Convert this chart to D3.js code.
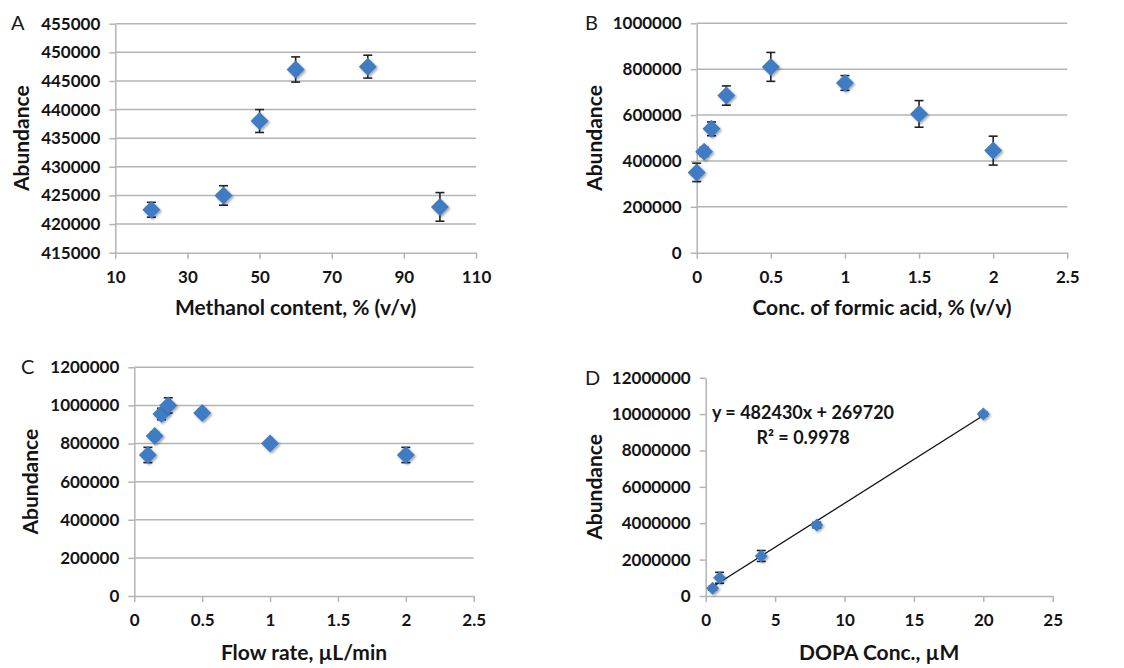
<!DOCTYPE html>
<html><head><meta charset="utf-8">
<script src="https://cdn.jsdelivr.net/npm/d3@7"></script>
<style>
body{margin:0;background:#fff;}
text{font-family:Lato,"Open Sans",sans-serif;}
</style></head>
<body><svg id="chart" width="1124" height="668"></svg>
<script>
// Panel A data
const methanolX = [20, 40, 50, 60, 80, 100];
const methanolY = [422500, 425000, 438000, 447000, 447500, 423000];
const methanolErr = [1300, 1700, 2000, 2200, 2000, 2500];
const methanolXTicks = [10, 30, 50, 70, 90, 110];
const methanolYTicks = [415000, 420000, 425000, 430000, 435000, 440000, 445000, 450000, 455000];
// Panel B data
const formicX = [0, 0.05, 0.1, 0.2, 0.5, 1, 1.5, 2];
const formicY = [350000, 440000, 540000, 685000, 810000, 740000, 605000, 445000];
const formicErr = [40000, 20000, 30000, 42000, 63000, 32000, 58000, 63000];
const formicXTicks = [0, 0.5, 1, 1.5, 2, 2.5];
const formicYTicks = [0, 200000, 400000, 600000, 800000, 1000000];
// Panel C data
const flowX = [0.1, 0.15, 0.2, 0.25, 0.5, 1, 2];
const flowY = [740000, 840000, 955000, 1000000, 960000, 800000, 740000];
const flowErr = [40000, 20000, 30000, 40000, 20000, 15000, 40000];
const flowXTicks = [0, 0.5, 1, 1.5, 2, 2.5];
const flowYTicks = [0, 200000, 400000, 600000, 800000, 1000000, 1200000];
// Panel D data
const dopaX = [0.5, 1, 4, 8, 20];
const dopaY = [420000, 1000000, 2200000, 3900000, 10000000];
const dopaErr = [100000, 300000, 300000, 150000, 100000];
const dopaXTicks = [0, 5, 10, 15, 20, 25];
const dopaYTicks = [0, 2000000, 4000000, 6000000, 8000000, 10000000, 12000000];
const dopaSlope = 482430, dopaIntercept = 269720;
const dopaEqText = "y = 482430x + 269720";
const dopaR2Text = "R² = 0.9978";

const svg = d3.select("#chart");
const defs = svg.append("defs");
const f = defs.append("filter").attr("id","sh").attr("x","-50%").attr("y","-50%").attr("width","200%").attr("height","200%");
f.append("feDropShadow").attr("dx",1.5).attr("dy",1.5).attr("stdDeviation",1.2).attr("flood-color","#000").attr("flood-opacity",0.35);

const GRID = "#b4b4b4", BLUE = "#3f7cc4";

function panel(o){
  const g = svg.append("g");
  const x = d3.scaleLinear().domain(o.xDom).range([o.l, o.r]);
  const y = d3.scaleLinear().domain(o.yDom).range([o.b, o.t]);
  if (o.grid) {
    g.selectAll(".gl").data(o.yTicks.filter(v => v !== o.yDom[0])).enter().append("line")
      .attr("x1", o.l).attr("x2", o.r).attr("y1", d => y(d)).attr("y2", d => y(d))
      .attr("stroke", GRID).attr("stroke-width", 1.5);
  }
  const ya = g.append("g").attr("transform", `translate(${o.l},0)`)
    .call(d3.axisLeft(y).tickValues(o.yTicks).tickFormat(d3.format("d")).tickSize(6).tickPadding(9).tickSizeOuter(0));
  const xa = g.append("g").attr("transform", `translate(0,${o.b})`)
    .call(d3.axisBottom(x).tickValues(o.xTicks).tickFormat(d => String(d)).tickSize(6).tickPadding(12).tickSizeOuter(0));
  [ya, xa].forEach(a => {
    a.select(".domain").attr("stroke", GRID).attr("stroke-width", 1.5);
    a.selectAll(".tick line").attr("stroke", GRID).attr("stroke-width", 1.5);
    a.selectAll(".tick text").attr("fill", "#141414").style("font-size", "17px").style("font-weight", "bold").style("font-family", "Lato");
  });
  if (o.fit) {
    const x0 = d3.min(o.xs), x1 = d3.max(o.xs);
    g.append("line").attr("x1", x(x0)).attr("x2", x(x1))
      .attr("y1", y(o.fit[0]*x0 + o.fit[1])).attr("y2", y(o.fit[0]*x1 + o.fit[1]))
      .attr("stroke", "#111").attr("stroke-width", 1.3);
  }
  const pts = o.xs.map((v,i) => ({x:v, y:o.ys[i], e:o.es[i]}));
  const cw = 4.5;
  const eb = g.append("g").attr("stroke", "#222").attr("stroke-width", 1.6);
  pts.forEach(p => {
    eb.append("line").attr("x1", x(p.x)).attr("x2", x(p.x)).attr("y1", y(p.y+p.e)).attr("y2", y(p.y-p.e));
    eb.append("line").attr("x1", x(p.x)-cw).attr("x2", x(p.x)+cw).attr("y1", y(p.y+p.e)).attr("y2", y(p.y+p.e));
    eb.append("line").attr("x1", x(p.x)-cw).attr("x2", x(p.x)+cw).attr("y1", y(p.y-p.e)).attr("y2", y(p.y-p.e));
  });
  const s = o.ms;
  g.selectAll(".pt").data(pts).enter().append("path")
    .attr("d", d => `M${x(d.x)},${y(d.y)-s}L${x(d.x)+s},${y(d.y)}L${x(d.x)},${y(d.y)+s}L${x(d.x)-s},${y(d.y)}Z`)
    .attr("fill", BLUE).attr("filter", "url(#sh)");
  // titles
  g.append("text").attr("x", o.lx).attr("y", o.ly).text(o.letter)
    .style("font-size", "20px").attr("fill", "#1a1a1a").attr("dominant-baseline", "middle").style("font-family", "Lato");
  g.append("text").attr("transform", `translate(${o.ytx},${(o.t+o.b)/2}) rotate(-90)`)
    .attr("text-anchor", "middle").attr("dominant-baseline", "middle").text("Abundance")
    .style("font-size", "21px").style("font-weight", "bold").attr("fill", "#141414");
  g.append("text").attr("x", (o.l+o.r)/2).attr("y", o.xty).attr("text-anchor", "middle").attr("dominant-baseline", "middle")
    .text(o.xTitle).style("font-size", "21px").style("font-weight", "bold").attr("fill", "#141414");
  return {g, x, y};
}

panel({l:115.3, r:476, t:23.7, b:252.7, xDom:[10,110], yDom:[415000,455000], xTicks:methanolXTicks, yTicks:methanolYTicks,
  xs:methanolX, ys:methanolY, es:methanolErr, grid:true, ms:9, letter:"A", lx:11, ly:25, ytx:24, xty:310,
  xTitle:"Methanol content, % (v/v)"});
panel({l:696.7, r:1067.3, t:23.3, b:252.7, xDom:[0,2.5], yDom:[0,1000000], xTicks:formicXTicks, yTicks:formicYTicks,
  xs:formicX, ys:formicY, es:formicErr, grid:true, ms:9, letter:"B", lx:585, ly:25, ytx:597, xty:310,
  xTitle:"Conc. of formic acid, % (v/v)"});
panel({l:134.3, r:473.7, t:367.3, b:596, xDom:[0,2.5], yDom:[0,1200000], xTicks:flowXTicks, yTicks:flowYTicks,
  xs:flowX, ys:flowY, es:flowErr, grid:true, ms:9, letter:"C", lx:21, ly:369, ytx:33, xty:655,
  xTitle:"Flow rate, µL/min"});
const pd = panel({l:705.7, r:1052.7, t:377.7, b:596, xDom:[0,25], yDom:[0,12000000], xTicks:dopaXTicks, yTicks:dopaYTicks,
  xs:dopaX, ys:dopaY, es:dopaErr, grid:false, ms:6.5, letter:"D", lx:585, ly:380, ytx:597, xty:655,
  xTitle:"DOPA Conc., µM", fit:[dopaSlope, dopaIntercept]});
pd.g.append("text").attr("x", 803).attr("y", 414).attr("text-anchor","middle").attr("dominant-baseline","middle")
  .text(dopaEqText).style("font-size","18px").style("font-weight","bold").attr("fill","#141414");
pd.g.append("text").attr("x", 803).attr("y", 439).attr("text-anchor","middle").attr("dominant-baseline","middle")
  .text(dopaR2Text).style("font-size","18px").style("font-weight","bold").attr("fill","#141414");
</script></body></html>
